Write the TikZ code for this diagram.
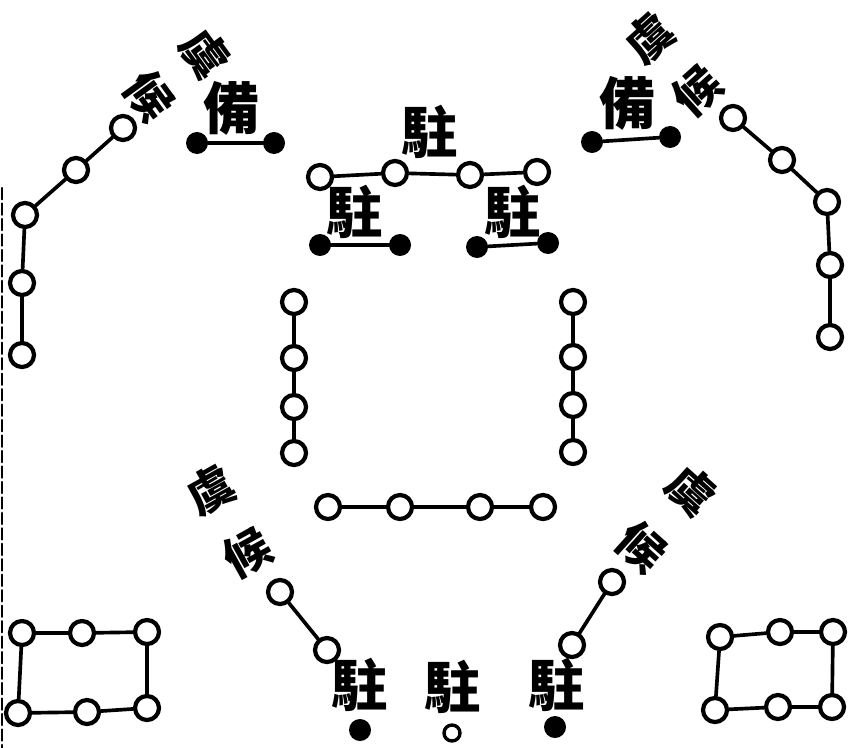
\documentclass[tikz,border=0pt]{standalone}
\usepackage{fontspec}
\newfontfamily\cjk{Noto Sans CJK TC}

\tikzset{
  ring/.style={circle, draw, line width=3pt, minimum size=0.6cm, inner sep=0pt},
  smallring/.style={ring, line width=2.4pt, minimum size=0.4cm},
  blob/.style={circle, fill, minimum size=0.55cm, inner sep=0pt},
  link/.style={line width=2.6pt},
  glyph/.style={font=\cjk\bfseries\fontsize{40}{40}\selectfont, inner sep=0pt},
  tilted/.style={font=\cjk\bfseries\fontsize{33}{33}\selectfont, inner sep=0pt},
}

\begin{document}
\begin{tikzpicture}[x=0.025cm, y=-0.025cm, line cap=round, line join=round]
  \useasboundingbox (0,0) rectangle (848,748);
  \draw[line width=1.6pt, dash pattern=on 8pt off 3pt] (2,188) -- (2,748);

  \foreach \n/\x/\y in {1/123/128, 2/76/170, 3/25/215, 4/22/283, 5/22/355}
    \node[ring] (tl\n) at (\x,\y) {};
  \foreach \n/\x/\y in {1/733/118, 2/782/160, 3/827/202, 4/830/265, 5/830/337}
    \node[ring] (tr\n) at (\x,\y) {};
  \foreach \n/\x/\y in {1/320/177, 2/395/173, 3/470/175, 4/537/172}
    \node[ring] (ct\n) at (\x,\y) {};
  \foreach \n/\y in {1/302, 2/358, 3/407, 4/453}
    \node[ring] (ml\n) at (294,\y) {};
  \foreach \n/\y in {1/302, 2/357, 3/405, 4/452}
    \node[ring] (mr\n) at (573,\y) {};
  \foreach \n/\x in {1/328, 2/400, 3/480, 4/543}
    \node[ring] (mh\n) at (\x,507) {};
  \foreach \a/\b in {1/2, 2/3, 3/4} {
    \draw[link] (tl\a) -- (tl\b);
    \draw[link] (tr\a) -- (tr\b);
    \draw[link] (ct\a) -- (ct\b);
    \draw[link] (ml\a) -- (ml\b);
    \draw[link] (mr\a) -- (mr\b);
    \draw[link] (mh\a) -- (mh\b);
  }
  \draw[link] (tl4) -- (tl5);
  \draw[link] (tr4) -- (tr5);

  \node[ring] (bl1) at (280,592) {};
  \node[ring] (bl2) at (327,650) {};
  \draw[link] (bl1) -- (bl2);
  \node[ring] (br1) at (612,582) {};
  \node[ring] (br2) at (572,645) {};
  \draw[link] (br1) -- (br2);

  \foreach \n/\x/\y in {1/22/633, 2/82/633, 3/147/632, 4/147/708, 5/87/712, 6/18/713}
    \node[ring] (ql\n) at (\x,\y) {};
  \foreach \n/\x/\y in {1/720/637, 2/780/632, 3/833/632, 4/832/707, 5/778/707, 6/715/710}
    \node[ring] (qr\n) at (\x,\y) {};
  \foreach \a/\b in {1/2, 2/3, 3/4, 4/5, 5/6, 6/1} {
    \draw[link] (ql\a) -- (ql\b);
    \draw[link] (qr\a) -- (qr\b);
  }

  \node[glyph] (beiL) at (232,108) {備};
  \node[blob] (beiLa) at (197,143) {};
  \node[blob] (beiLb) at (274,143) {};
  \draw[link] (beiLa) -- (beiLb);
  \node[glyph] (beiR) at (628,103) {備};
  \node[blob] (beiRa) at (592,142) {};
  \node[blob] (beiRb) at (670,137) {};
  \draw[link] (beiRa) -- (beiRb);

  \node[glyph] (zhuT) at (430,132) {駐};
  \node[glyph] (zhuL) at (355,212) {駐};
  \node[blob] (zhuLa) at (320,245) {};
  \node[blob] (zhuLb) at (400,245) {};
  \draw[link] (zhuLa) -- (zhuLb);
  \node[glyph] (zhuR) at (513,212) {駐};
  \node[blob] (zhuRa) at (477,247) {};
  \node[blob] (zhuRb) at (548,243) {};
  \draw[link] (zhuRa) -- (zhuRb);

  \node[glyph] (zhu1) at (360,685) {駐};
  \node[blob] (zhu1a) at (360,730) {};
  \node[glyph] (zhu2) at (453,687) {駐};
  \node[smallring] (zhu2a) at (452,733) {};
  \node[glyph] (zhu3) at (557,685) {駐};
  \node[blob] (zhu3a) at (555,727) {};

  \node[tilted, rotate=-54] (yuTL) at (205,53) {虞};
  \node[tilted, rotate=-54] (houTL) at (149,96) {候};
  \node[tilted, rotate=42] (yuTR) at (649,38) {虞};
  \node[tilted, rotate=42] (houTR) at (697,91) {候};
  \node[tilted, rotate=29] (yuBL) at (210,490) {虞};
  \node[tilted, rotate=29] (houBL) at (247,553) {候};
  \node[tilted, rotate=-42] (yuBR) at (691,490) {虞};
  \node[tilted, rotate=-42] (houBR) at (641,547) {候};
\end{tikzpicture}
\end{document}
